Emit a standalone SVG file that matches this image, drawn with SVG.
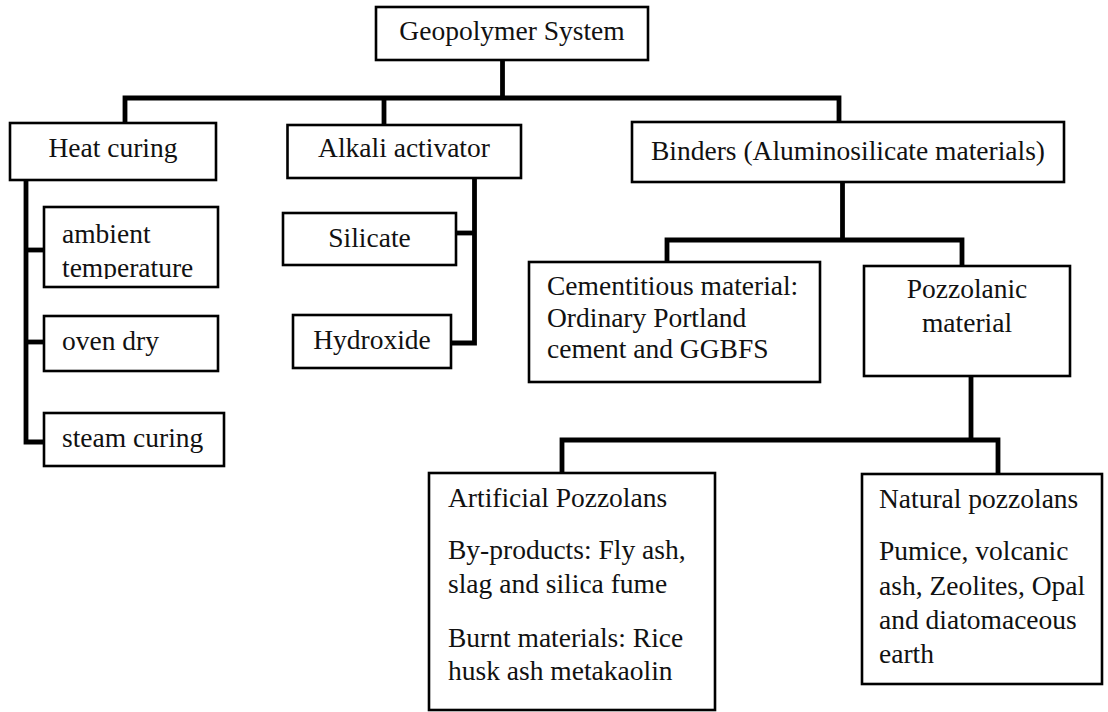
<svg xmlns="http://www.w3.org/2000/svg" width="1108" height="712" viewBox="0 0 1108 712">
  <style>
    .box { fill: #ffffff; stroke: #000000; stroke-width: 2.6; }
    .t { font-family: 'Liberation Serif', serif; font-size: 27.5px; fill: #111111; }
    .c { text-anchor: middle; }
    .conn { fill: none; stroke: #000000; stroke-width: 4.8; stroke-linejoin: miter; stroke-linecap: butt; }
  </style>
  <defs>
    <clipPath id="clipAmbient">
      <rect x="44" y="207" width="174" height="72"/>
    </clipPath>
  </defs>
  <rect width="1108" height="712" fill="#ffffff"/>

  <g id="connectors">
    <path class="conn" d="M502.5,60 V98"/>
    <path class="conn" d="M125,123 V98 H839 V122"/>
    <path class="conn" d="M384,98 V125"/>
    <path class="conn" d="M26,180 V442 H44"/>
    <path class="conn" d="M26,250 H44"/>
    <path class="conn" d="M26,342 H44"/>
    <path class="conn" d="M474.5,178 V343 H451"/>
    <path class="conn" d="M474.5,233 H456"/>
    <path class="conn" d="M842.5,182 V240"/>
    <path class="conn" d="M667,262 V240 H962 V266"/>
    <path class="conn" d="M971,376 V440"/>
    <path class="conn" d="M562,473 V440 H998 V474"/>
  </g>

  <g font-family="Liberation Serif, serif">
  <g id="geopolymer-system">
    <rect class="box" x="376" y="7" width="272" height="53"/>
    <text class="t c" x="512" y="40">Geopolymer System</text>
  </g>

  <g id="heat-curing">
    <rect class="box" x="10" y="123" width="206" height="57"/>
    <text class="t c" x="113" y="157">Heat curing</text>
  </g>

  <g id="alkali-activator">
    <rect class="box" x="287.5" y="125" width="233.5" height="53"/>
    <text class="t c" x="404" y="157">Alkali activator</text>
  </g>

  <g id="binders">
    <rect class="box" x="632" y="122" width="432" height="60"/>
    <text class="t c" x="848" y="160">Binders (Aluminosilicate materials)</text>
  </g>

  <g id="ambient-temperature">
    <rect class="box" x="44" y="207" width="174" height="80"/>
    <g clip-path="url(#clipAmbient)">
      <text class="t" x="62" y="243">ambient</text>
      <text class="t" x="62" y="277">temperature</text>
    </g>
  </g>

  <g id="oven-dry">
    <rect class="box" x="44" y="316" width="174" height="55"/>
    <text class="t" x="62" y="350">oven dry</text>
  </g>

  <g id="steam-curing">
    <rect class="box" x="44" y="413" width="180" height="53"/>
    <text class="t" x="62" y="447">steam curing</text>
  </g>

  <g id="silicate">
    <rect class="box" x="283" y="213" width="173" height="52"/>
    <text class="t c" x="369.5" y="247">Silicate</text>
  </g>

  <g id="hydroxide">
    <rect class="box" x="293" y="315" width="158" height="53"/>
    <text class="t c" x="372" y="349">Hydroxide</text>
  </g>

  <g id="cementitious-material">
    <rect class="box" x="529" y="262" width="291" height="120"/>
    <text class="t" x="547" y="295">Cementitious material:</text>
    <text class="t" x="547" y="327">Ordinary Portland</text>
    <text class="t" x="547" y="358">cement and GGBFS</text>
  </g>

  <g id="pozzolanic-material">
    <rect class="box" x="864" y="266" width="206" height="110"/>
    <text class="t c" x="967" y="298">Pozzolanic</text>
    <text class="t c" x="967" y="332">material</text>
  </g>

  <g id="artificial-pozzolans">
    <rect class="box" x="429" y="473" width="286" height="237"/>
    <text class="t" x="448" y="507">Artificial Pozzolans</text>
    <text class="t" x="448" y="559">By-products: Fly ash,</text>
    <text class="t" x="448" y="593">slag and silica fume</text>
    <text class="t" x="448" y="647">Burnt materials: Rice</text>
    <text class="t" x="448" y="680">husk ash metakaolin</text>
  </g>

  <g id="natural-pozzolans">
    <rect class="box" x="862" y="474" width="240" height="210"/>
    <text class="t" x="879" y="508">Natural pozzolans</text>
    <text class="t" x="879" y="560">Pumice, volcanic</text>
    <text class="t" x="879" y="595">ash, Zeolites, Opal</text>
    <text class="t" x="879" y="629">and diatomaceous</text>
    <text class="t" x="879" y="663">earth</text>
  </g>
  </g>
</svg>
